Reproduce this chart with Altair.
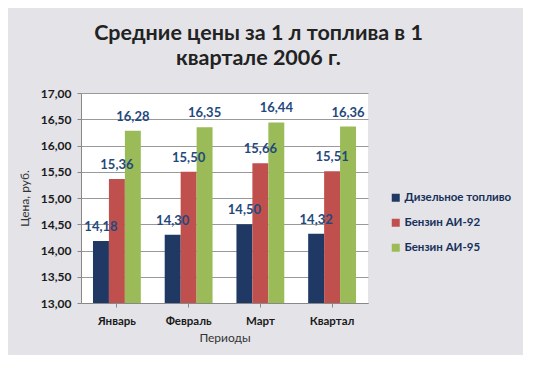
import altair as alt
import pandas as pd

months = ["Январь", "Февраль", "Март", "Квартал"]
series = ["Дизельное топливо", "Бензин АИ-92", "Бензин АИ-95"]
diesel = [14.18, 14.30, 14.50, 14.32]
ai92 = [15.36, 15.50, 15.66, 15.51]
ai95 = [16.28, 16.35, 16.44, 16.36]
y_ticks = [13, 13.5, 14, 14.5, 15, 15.5, 16, 16.5, 17]
colors = ["#1F3864", "#C0504D", "#9BBB59"]

rows = []
for s, vals in zip(series, [diesel, ai92, ai95]):
    for m, v in zip(months, vals):
        rows.append({"period": m, "fuel": s, "price": v,
                     "label": f"{v:.2f}".replace(".", ",")})
df = pd.DataFrame(rows)

FONT = "Lato"

x = alt.X("period:N", sort=months,
          scale=alt.Scale(paddingInner=0.333, paddingOuter=0.167),
          axis=alt.Axis(title="Периоды", labelAngle=0, labelFontWeight="bold",
                        labelFontSize=11.5, labelColor="#1a1a1a", labelPadding=8,
                        titleFontSize=12, titleFontWeight="normal", titleColor="#333333",
                        titlePadding=6, domainColor="#888888", tickColor="#888888",
                        ticks=True, tickSize=4))
xo = alt.XOffset("fuel:N", sort=series, scale=alt.Scale(paddingInner=0, paddingOuter=0))
y = alt.Y("price:Q", scale=alt.Scale(domain=[13, 17], zero=False, nice=False),
          axis=alt.Axis(title="Цена, руб.", values=y_ticks, labelOverlap=False,
                        labelExpr="replace(format(datum.value, '.2f'), '.', ',')",
                        labelFontWeight="bold", labelFontSize=12, labelColor="#1a1a1a",
                        labelPadding=6, titleFontSize=12, titleFontWeight="normal",
                        titleColor="#333333", titlePadding=9,
                        gridColor="#999999", gridWidth=1, domainColor="#888888",
                        tickColor="#888888", tickSize=4))

bars = alt.Chart(df).mark_bar().encode(
    x=x,
    xOffset=xo,
    y=y,
    y2=alt.datum(13),
    color=alt.Color("fuel:N", sort=series,
                    scale=alt.Scale(domain=series, range=colors),
                    legend=alt.Legend(title=None, orient="none", legendX=309, legendY=99,
                                      symbolType="square", symbolSize=64,
                                      symbolStrokeWidth=0, labelFontSize=11.5,
                                      labelFontWeight="bold", labelColor="#17305a",
                                      rowPadding=12, labelOffset=3)),
)

labels = alt.Chart(df).mark_text(dy=-7, baseline="bottom", fontWeight="bold",
                                 fontSize=13, color="#1F497D", font=FONT).encode(
    x=x,
    xOffset=xo,
    y=y,
    text="label:N",
)

chart = alt.layer(bars, labels).properties(
    width=287, height=210,
    title=alt.Title(["Средние цены за 1 л топлива в 1", "квартале 2006 г."],
                    fontSize=21.5, fontWeight="bold", color="#222222", font=FONT,
                    anchor="middle", dx=34, offset=18, lineHeight=25),
    autosize=alt.AutoSizeParams(type="none"),
    padding={"left": 73, "top": 85, "right": 155, "bottom": 52},
    background="#e3e3e8",
).configure_view(fill="white", stroke=None).configure_axis(
    labelFont=FONT, titleFont=FONT
).configure_legend(labelFont=FONT)

chart.save("out.html", embed_options={"renderer": "svg", "actions": False})
